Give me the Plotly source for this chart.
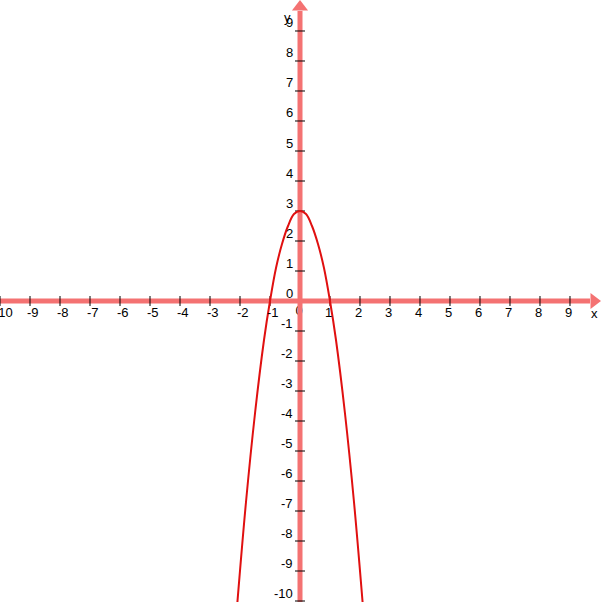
import plotly.graph_objects as go

# points
curve_x = [-2.1, -1.8, -1.5, -1.2, -1.0, -0.8, -0.6, -0.4, -0.2, 0.0,
           0.2, 0.4, 0.6, 0.8, 1.0, 1.2, 1.5, 1.8, 2.1]
curve_y = [-10.2, -6.7, -3.75, -1.3, 0.0, 1.1, 1.9, 2.5, 2.9, 3.0,
           2.9, 2.5, 1.9, 1.1, 0.0, -1.3, -3.75, -6.7, -10.2]

x_ticks = list(range(-10, 10))
y_ticks = list(range(-10, 10))
x_labels = [str(t) for t in x_ticks]
y_labels = [str(t) for t in y_ticks]

axis_col = "#f47272"
px = 1 / 30  # one pixel in data units
font = dict(family="Liberation Sans", size=13, color="black")

fig = go.Figure()

# x=0 label sits under the y axis line
fig.add_trace(go.Scatter(x=[0 - 1 * px], y=[0 - 11 * px], mode="text", text=["0"],
                         textfont=font, hoverinfo="skip", showlegend=False))

# axis lines
fig.add_trace(go.Scatter(x=[-10.1, 10 - 10 * px], y=[0, 0], mode="lines",
                         line=dict(color=axis_col, width=5), showlegend=False))
fig.add_trace(go.Scatter(x=[0, 0], y=[-10.1, 10 - 10 * px], mode="lines",
                         line=dict(color=axis_col, width=5), showlegend=False))
# arrow heads
fig.add_trace(go.Scatter(x=[10 - 6 * px], y=[0], mode="markers",
                         marker=dict(symbol="triangle-right", size=14, color=axis_col),
                         showlegend=False))
fig.add_trace(go.Scatter(x=[0], y=[10 - 6 * px], mode="markers",
                         marker=dict(symbol="triangle-up", size=14, color=axis_col),
                         showlegend=False))

# tick marks
tx, ty = [], []
for t in x_ticks:
    if t == 0:
        continue
    tx += [t, t, None]
    ty += [-5 * px, 5 * px, None]
for t in y_ticks:
    if t == 0:
        continue
    tx += [-5 * px, 5 * px, None]
    ty += [t, t, None]
fig.add_trace(go.Scatter(x=tx, y=ty, mode="lines", line=dict(color="black", width=1),
                         hoverinfo="skip", showlegend=False, cliponaxis=False))

# the curve
fig.add_trace(go.Scatter(x=curve_x, y=curve_y, mode="lines", line_shape="spline",
                         line=dict(color="#e01010", width=2), showlegend=False))

# tick labels
for t, lab in zip(x_ticks, x_labels):
    if t == 0:
        continue
    fig.add_annotation(x=t, y=0, text=lab, showarrow=False, font=font,
                       xanchor="center", yanchor="middle",
                       xshift=3 if t < 0 else -1, yshift=-11)
for t, lab in zip(y_ticks, y_labels):
    fig.add_annotation(x=0, y=t, text=lab, showarrow=False, font=font,
                       xanchor="right", yanchor="middle", xshift=-5, yshift=8)

fig.add_annotation(x=0, y=10, text="y", showarrow=False, font=font,
                   xanchor="right", yanchor="middle", xshift=-7, yshift=-17)
fig.add_annotation(x=10, y=0, text="x", showarrow=False, font=font,
                   xanchor="center", yanchor="middle", xshift=-5, yshift=-12)

fig.update_layout(
    width=608, height=602,
    margin=dict(l=0, r=0, t=0, b=0),
    plot_bgcolor="white", paper_bgcolor="white",
    xaxis=dict(range=[-10, 10.267], visible=False, fixedrange=True),
    yaxis=dict(range=[-10.033, 10.033], visible=False, fixedrange=True),
)

# page body has an 8px default margin; drop it so the chart sits at the corner
fig.write_html("out.html", config={"displayModeBar": False},
               post_script="document.body.style.margin='0px';")
